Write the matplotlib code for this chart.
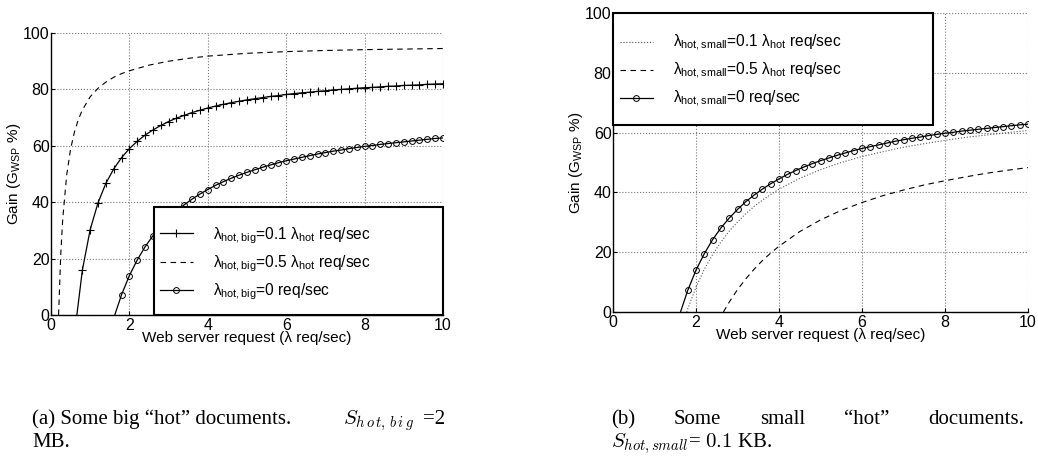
"""Gain of WSP vs. web server request rate, for big and small "hot" documents."""
import matplotlib
matplotlib.use("Agg")
import matplotlib.pyplot as plt
from matplotlib.lines import Line2D
from matplotlib.patches import Rectangle

plt.rcParams["font.family"] = ["Liberation Sans", "DejaVu Sans"]
plt.rcParams["mathtext.fontset"] = "custom"
plt.rcParams["mathtext.rm"] = "Liberation Sans"
plt.rcParams["mathtext.it"] = "Liberation Sans:italic"

W, H = 1038, 458

# ── data ─────────────────────────────────────────────────────────────────────
# (a) big hot documents
big01_x = [0.66, 0.8, 1.0, 1.2, 1.4, 1.6, 1.8, 2.0, 2.2, 2.4, 2.6, 2.8, 3.0, 3.2, 3.4,
           3.6, 3.8, 4.0, 4.2, 4.4, 4.6, 4.8, 5.0, 5.2, 5.4, 5.6, 5.8, 6.0, 6.2, 6.4,
           6.6, 6.8, 7.0, 7.2, 7.4, 7.6, 7.8, 8.0, 8.2, 8.4, 8.6, 8.8, 9.0, 9.2, 9.4,
           9.6, 9.8, 10.0]
big01_y = [0.0, 15.9, 30.3, 39.8, 46.7, 51.8, 55.8, 59.0, 61.6, 63.8, 65.6, 67.2, 68.6,
           69.8, 70.8, 71.8, 72.6, 73.4, 74.1, 74.7, 75.3, 75.8, 76.3, 76.7, 77.1, 77.5,
           77.8, 78.2, 78.5, 78.8, 79.0, 79.3, 79.5, 79.8, 80.0, 80.2, 80.4, 80.6, 80.7,
           80.9, 81.1, 81.2, 81.4, 81.5, 81.6, 81.8, 81.9, 82.0]

big05_x = [0.193, 0.25, 0.3, 0.4, 0.5, 0.6, 0.7, 0.8, 1.0, 1.2, 1.4, 1.6, 1.8, 2.0,
           2.5, 3.0, 3.5, 4.0, 5.0, 6.0, 7.0, 8.0, 9.0, 10.0]
big05_y = [0.0, 21.9, 34.2, 49.6, 58.9, 65.0, 69.4, 72.7, 77.4, 80.4, 82.6, 84.3, 85.6,
           86.6, 88.6, 90.0, 91.0, 91.8, 92.8, 93.4, 93.8, 94.1, 94.3, 94.5]

# lambda_hot = 0 (same curve in both panels)
zero_x = [1.627, 1.8, 2.0, 2.2, 2.4, 2.6, 2.8, 3.0, 3.2, 3.4, 3.6, 3.8, 4.0, 4.2, 4.4,
          4.6, 4.8, 5.0, 5.2, 5.4, 5.6, 5.8, 6.0, 6.2, 6.4, 6.6, 6.8, 7.0, 7.2, 7.4,
          7.6, 7.8, 8.0, 8.2, 8.4, 8.6, 8.8, 9.0, 9.2, 9.4, 9.6, 9.8, 10.0]
zero_y = [0.0, 7.2, 14.0, 19.5, 24.2, 28.1, 31.4, 34.3, 36.9, 39.1, 41.1, 42.9, 44.5,
          46.0, 47.3, 48.5, 49.6, 50.6, 51.5, 52.4, 53.2, 54.0, 54.7, 55.3, 55.9, 56.5,
          57.1, 57.6, 58.1, 58.5, 59.0, 59.4, 59.8, 60.1, 60.5, 60.8, 61.1, 61.4, 61.7,
          62.0, 62.3, 62.6, 62.8]

# (b) small hot documents
small01_x = [1.775, 1.8, 2.0, 2.2, 2.4, 2.6, 2.8, 3.0, 3.2, 3.4, 3.6, 3.8, 4.0, 4.5,
             5.0, 5.5, 6.0, 6.5, 7.0, 7.5, 8.0, 8.5, 9.0, 9.5, 10.0]
small01_y = [0.0, 1.0, 8.3, 14.3, 19.2, 23.4, 27.0, 30.1, 32.9, 35.3, 37.4, 39.3, 41.1,
             44.7, 47.6, 50.0, 52.0, 53.6, 55.1, 56.3, 57.4, 58.4, 59.2, 60.0, 60.7]

small05_x = [2.66, 2.8, 3.0, 3.2, 3.4, 3.6, 3.8, 4.0, 4.5, 5.0, 5.5, 6.0, 6.5, 7.0,
             7.5, 8.0, 8.5, 9.0, 9.5, 10.0]
small05_y = [0.0, 3.3, 7.5, 11.1, 14.3, 17.2, 19.7, 22.0, 26.9, 30.8, 34.0, 36.6, 38.9,
             40.8, 42.5, 43.9, 45.2, 46.4, 47.4, 48.3]

big_labels = [r"λ$_{\rm hot,big}$=0.1 λ$_{\rm hot}$ req/sec",
              r"λ$_{\rm hot,big}$=0.5 λ$_{\rm hot}$ req/sec",
              r"λ$_{\rm hot,big}$=0 req/sec"]
small_labels = [r"λ$_{\rm hot,small}$=0.1 λ$_{\rm hot}$ req/sec",
                r"λ$_{\rm hot,small}$=0.5 λ$_{\rm hot}$ req/sec",
                r"λ$_{\rm hot,small}$=0 req/sec"]

caption_a = ["(a) Some big “hot” documents.", r"$S_{h\,o\,t,\,b\,i\,g}$", "=2", "MB."]
caption_b = ["(b)", "Some", "small", "“hot”", "documents.", r"$S_{hot,small}$= $0.1$ KB."]

XLABEL = "Web server request (λ req/sec)"
YLABEL = r"Gain (G$_{\rm WSP}$ %)"
FS = 11
LEG_FS = 11.2


def px_axes(left, top, right, bottom):
    return [left / W, 1 - bottom / H, (right - left) / W, (bottom - top) / H]


def style_axes(ax):
    ax.set_xlim(0, 10)
    ax.set_ylim(0, 100)
    ax.set_xticks([0, 2, 4, 6, 8, 10])
    ax.set_yticks([0, 20, 40, 60, 80, 100])
    ax.grid(True, ls=":", color="#777777", lw=0.8)
    ax.set_axisbelow(True)
    for s in ("top", "right"):
        ax.spines[s].set_visible(False)
    for s in ("left", "bottom"):
        ax.spines[s].set_linewidth(1.0)
    ax.tick_params(direction="in", length=3, width=0.8, labelsize=11.5, pad=1,
                   top=False, right=False)
    ax.tick_params(axis="x", pad=2)
    ax.set_xlabel(XLABEL, fontsize=FS, labelpad=-1)
    ax.set_ylabel(YLABEL, fontsize=FS, labelpad=0)


def boxed_legend(ax, handles, labels, box, anchor):
    # box/anchor in axes fraction; draw a square white frame with a thick edge
    ax.add_patch(Rectangle(box[:2], box[2], box[3], transform=ax.transAxes,
                           facecolor="white", edgecolor="black", lw=1.5,
                           zorder=4, clip_on=False))
    leg = ax.legend(handles, labels, loc="upper left", bbox_to_anchor=anchor,
                    frameon=False, fontsize=LEG_FS, borderpad=0, borderaxespad=0,
                    handlelength=2.1, handletextpad=1.3, labelspacing=0.5)
    leg.set_zorder(5)


fig = plt.figure(figsize=(W / 100, H / 100), dpi=100)

# ── (a) ──────────────────────────────────────────────────────────────────────
ax1 = fig.add_axes(px_axes(51, 33, 443, 315))
style_axes(ax1)
ax1.plot(big01_x, big01_y, "k-", lw=0.9, marker="+", ms=5.5, mew=0.8,
         markevery=slice(1, None))
ax1.plot(big05_x, big05_y, "k--", lw=0.8, dashes=(5, 4))
ax1.plot(zero_x, zero_y, "k-", lw=0.9, marker="o", ms=4.2, mfc="none", mew=0.7,
         markevery=slice(1, None))
h = [Line2D([0, 1], [0, 0], color="k", lw=0.9, marker="+", ms=5.5, mew=0.8),
     Line2D([0, 1], [0, 0], color="k", lw=0.8, ls="--", dashes=(5, 4)),
     Line2D([0, 1], [0, 0], color="k", lw=0.9, marker="o", ms=4.2, mfc="none", mew=0.7)]
boxed_legend(ax1, h, big_labels,
             box=((154 - 51) / 392, 0, (443 - 154) / 392, (315 - 207) / 282),
             anchor=((160 - 51) / 392, (315 - 225) / 282))

# ── (b) ──────────────────────────────────────────────────────────────────────
ax2 = fig.add_axes(px_axes(613, 13, 1028, 312))
style_axes(ax2)
ax2.plot(small01_x, small01_y, color="#555555", ls=":", lw=0.8)
ax2.plot(small05_x, small05_y, "k--", lw=0.8, dashes=(5, 4))
ax2.plot(zero_x, zero_y, "k-", lw=0.9, marker="o", ms=4.2, mfc="none", mew=0.7,
         markevery=slice(1, None))
h2 = [Line2D([0, 1], [0, 0], color="#555555", lw=0.8, ls=":"),
      Line2D([0, 1], [0, 0], color="k", lw=0.8, ls="--", dashes=(5, 4)),
      Line2D([0, 1], [0, 0], color="k", lw=0.9, marker="o", ms=4.2, mfc="none", mew=0.7)]
boxed_legend(ax2, h2, small_labels,
             box=(0, (312 - 125) / 299, (933 - 613) / 415, (125 - 13) / 299),
             anchor=((620 - 613) / 415, (312 - 33) / 299))

# ── captions (justified like the LaTeX subfigure columns) ───────────────────
cap = dict(fontsize=15, family="Liberation Serif", math_fontfamily="cm", va="baseline")
LINE1, LINE2 = 424, 447


def ftext(x, y, s, **kw):
    return fig.text(x / W, 1 - y / H, s, **{**cap, **kw})


ftext(32, LINE1, caption_a[0])
ftext(343, LINE1, caption_a[1])
ftext(445, LINE1, caption_a[2], ha="right")
ftext(32, LINE2, caption_a[3])

# spread the words of (b) across its column
renderer = fig.canvas.get_renderer()
col_l, col_r = 611, 1024
words = [ftext(0, LINE1, w) for w in caption_b[:5]]
widths = [t.get_window_extent(renderer).width for t in words]
gap = (col_r - col_l - sum(widths)) / (len(words) - 1)
x = col_l
for t, w in zip(words, widths):
    t.set_x(x / W)
    x += w + gap
ftext(col_l, LINE2, caption_b[5])

fig.savefig("out.png", dpi=100)
